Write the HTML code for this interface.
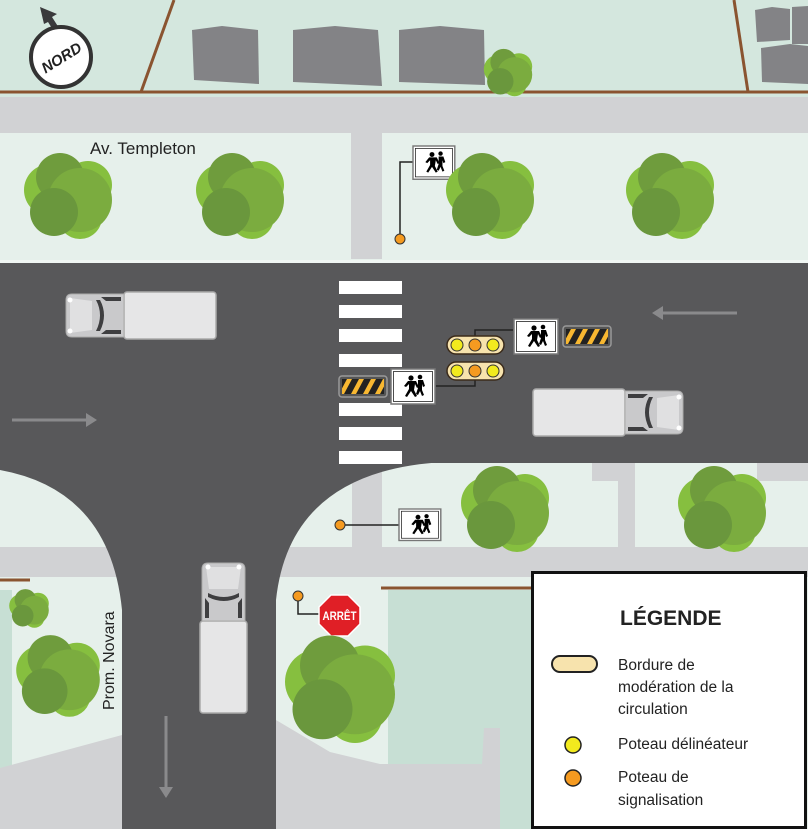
<!DOCTYPE html>
<html><head><meta charset="utf-8"><style>
html,body{margin:0;padding:0;background:#fff}
svg{display:block}
text{font-family:"Liberation Sans",sans-serif}
</style></head><body>
<svg width="808" height="829" viewBox="0 0 808 829" xmlns="http://www.w3.org/2000/svg">
<defs>
<g id="tree">
  <circle cx="-18" cy="-5" r="26" fill="#86bf3f"/>
  <circle cx="12" cy="22" r="22" fill="#86bf3f"/>
  <circle cx="20" cy="-10" r="24" fill="#86bf3f"/>
  <circle cx="-8" cy="-18" r="24" fill="#6f9c3d"/>
  <circle cx="12" cy="5" r="32" fill="#7bac3f"/>
  <circle cx="-14" cy="17" r="24" fill="#6a973d"/>
</g>
<g id="truck">
  <rect x="58" y="0" width="92" height="47" rx="3" fill="#e6e6e7" stroke="#aaa" stroke-width="1.5"/>
  <path d="M6 2 H58 V45 H6 Q0 45 0 39 V8 Q0 2 6 2Z" fill="#c9c9cb" stroke="#aaa" stroke-width="1"/>
  <path d="M4 6 L26 9 L26 38 L4 41 Z" fill="#e0e0e1"/>
  <path d="M30 8 Q38 23 30 39 L34 39 Q42 23 34 8Z" fill="#3e3e40"/>
  <path d="M35 5 L55 5 L55 9 L40 9Z" fill="#3e3e40"/>
  <path d="M35 42 L55 42 L55 38 L40 38Z" fill="#3e3e40"/>
  <circle cx="4" cy="8" r="2.5" fill="#fff"/>
  <circle cx="4" cy="39" r="2.5" fill="#fff"/>
</g>
<g id="ped">
  <rect x="0" y="0" width="44" height="35" fill="#fff" stroke="#777" stroke-width="1.5"/>
  <rect x="2.5" y="2.5" width="39" height="30" fill="#fff" stroke="#222" stroke-width="0.8"/>
  <circle cx="20" cy="9" r="2.6" fill="#000"/>
  <path d="M17 12 L25 12 L28 18 L26 19 L24 15 L23 21 L26 27 L24 28 L20 22 L16 28 L14 27 L18 20 L18 15 L15 18 L13 17Z" fill="#000"/>
  <circle cx="29" cy="8" r="2.3" fill="#000"/>
  <path d="M27 11 L32 11 L34 17 L32 18 L31 15 L31 21 L33 26 L31 27 L29 22 L27 26 L25 25 L27 19Z" fill="#000"/>
</g>
<g id="haz">
  <rect x="0" y="0" width="48" height="21" rx="3" fill="#555" stroke="#999" stroke-width="1.5"/>
  <clipPath id="hc"><rect x="3" y="3" width="42" height="15"/></clipPath>
  <g clip-path="url(#hc)">
    <rect x="3" y="3" width="42" height="15" fill="#222"/>
    <path d="M0 18 L8 3 L13 3 L5 18Z M12 18 L20 3 L25 3 L17 18Z M24 18 L32 3 L37 3 L29 18Z M36 18 L44 3 L49 3 L41 18Z" fill="#f7b731"/>
  </g>
</g>
<g id="pill">
  <rect x="0" y="0" width="57" height="18" rx="9" fill="#f7e3ad" stroke="#3a2a1a" stroke-width="1.5"/>
  <circle cx="10" cy="9" r="6" fill="#f2ea1e" stroke="#333" stroke-width="1"/>
  <circle cx="28" cy="9" r="6" fill="#f59a20" stroke="#333" stroke-width="1"/>
  <circle cx="46" cy="9" r="6" fill="#f2ea1e" stroke="#333" stroke-width="1"/>
</g>
</defs>

<!-- top band -->
<rect x="0" y="0" width="808" height="97" fill="#d4e7de"/>
<path d="M0 92 H808" stroke="#8a5430" stroke-width="3"/>
<path d="M174 0 L141 92" stroke="#8a5430" stroke-width="3"/>
<path d="M734 0 L748 92" stroke="#8a5430" stroke-width="3"/>
<!-- buildings -->
<path d="M192 30 L222 26 L258 30 L259 84 L194 80Z" fill="#838386"/>
<path d="M293 30 L335 26 L378 30 L382 86 L293 82Z" fill="#838386"/>
<path d="M399 30 L440 26 L484 30 L485 85 L399 82Z" fill="#838386"/>
<path d="M755 10 L772 7 L790 9 L790 40 L757 42Z" fill="#838386"/>
<path d="M792 7 L808 6 L808 44 L792 44Z" fill="#838386"/>
<path d="M761 48 L790 44 L808 46 L808 84 L762 82Z" fill="#838386"/>
<use href="#tree" transform="translate(508,72) scale(0.55)"/>
<!-- compass -->
<path d="M55 33 L48 22 L44 24 L40 7 L57 14 L52 17 L59 28Z" fill="#3a3a3c"/>
<circle cx="61" cy="57" r="30" fill="#fff" stroke="#333" stroke-width="4"/>
<text x="61" y="63" font-size="15" font-weight="bold" font-style="italic" text-anchor="middle" transform="rotate(-32 61 57)" fill="#222">NORD</text>

<!-- sidewalk & grass -->
<rect x="0" y="97" width="808" height="37" fill="#d1d2d4"/>
<rect x="0" y="133" width="808" height="130" fill="#e6f0eb"/>
<rect x="351" y="133" width="31" height="126" fill="#d1d2d4"/>

<!-- lower lawns -->
<rect x="0" y="460" width="808" height="369" fill="#e6f0eb"/>
<rect x="0" y="547" width="808" height="30" fill="#d1d2d4"/>
<rect x="352" y="460" width="30" height="90" fill="#d1d2d4"/>
<rect x="592" y="460" width="43" height="21" fill="#d1d2d4"/>
<rect x="618" y="460" width="17" height="90" fill="#d1d2d4"/>
<rect x="757" y="460" width="51" height="21" fill="#d1d2d4"/>
<rect x="0" y="590" width="12" height="180" fill="#c7dfd4"/>
<path d="M0 580 H30" stroke="#8a5430" stroke-width="3"/>
<rect x="388" y="590" width="145" height="239" fill="#c7dfd4"/>
<path d="M381 588 H532" stroke="#8a5430" stroke-width="3"/>
<path d="M0 768 L122 735 L122 829 L0 829Z" fill="#d1d2d4"/>
<path d="M276 720 L330 752 L380 764 L482 764 L484 728 L500 728 L500 829 L276 829Z" fill="#d1d2d4"/>

<!-- roads -->
<rect x="0" y="263" width="808" height="200" fill="#58585a"/>
<path d="M0 470 Q110 490 122 610 L122 829 L276 829 L276 600 Q290 470 445 462 L0 462Z" fill="#58585a"/>
<rect x="0" y="260" width="808" height="3" fill="#fff" opacity="0.4"/>

<!-- crosswalk -->
<g fill="#fff">
<rect x="339" y="281" width="63" height="13"/>
<rect x="339" y="305" width="63" height="13"/>
<rect x="339" y="329" width="63" height="13"/>
<rect x="339" y="354" width="63" height="13"/>
<rect x="339" y="403" width="63" height="13"/>
<rect x="339" y="427" width="63" height="13"/>
<rect x="339" y="451" width="63" height="13"/>
</g>

<!-- arrows -->
<g stroke="#8a8a8c" stroke-width="3" fill="#8a8a8c">
<path d="M12 420 H90"/><path d="M97 420 L86 413 L86 427Z" stroke="none"/>
<path d="M737 313 H660"/><path d="M652 313 L663 306 L663 320Z" stroke="none"/>
<path d="M166 716 V790"/><path d="M166 798 L159 787 L173 787Z" stroke="none"/>
</g>

<!-- trucks -->
<use href="#truck" transform="translate(66,292)"/>
<use href="#truck" transform="translate(683,389) scale(-1,1)"/>
<use href="#truck" transform="translate(247,563) rotate(90)"/>

<!-- devices -->
<path d="M475 336 V330 H513" stroke="#222" stroke-width="1.5" fill="none"/>
<path d="M475 380 V386 H436" stroke="#222" stroke-width="1.5" fill="none"/>
<use href="#pill" transform="translate(447,336)"/>
<use href="#pill" transform="translate(447,362)"/>
<use href="#ped" transform="translate(514,319)"/>
<use href="#ped" transform="translate(391,369)"/>
<use href="#haz" transform="translate(563,326)"/>
<use href="#haz" transform="translate(339,376)"/>

<!-- top sign -->
<path d="M400 238 V162 H413" stroke="#222" stroke-width="1.5" fill="none"/>
<circle cx="400" cy="239" r="5" fill="#f59a20" stroke="#333"/>
<use href="#ped" transform="translate(413,146) scale(0.95)"/>
<!-- lower sign -->
<path d="M340 525 H399" stroke="#222" stroke-width="1.5"/>
<circle cx="340" cy="525" r="5" fill="#f59a20" stroke="#333"/>
<use href="#ped" transform="translate(399,509) scale(0.95,0.9)"/>
<!-- stop -->
<path d="M298 597 V614 H322" stroke="#222" stroke-width="1.5" fill="none"/>
<circle cx="298" cy="596" r="5" fill="#f59a20" stroke="#333"/>
<polygon points="331,595 348,595 360,607 360,624 348,636 331,636 319,624 319,607" fill="#e01f26" stroke="#fff" stroke-width="1.5"/>
<text x="339.5" y="620" font-size="12" font-weight="bold" fill="#fff" text-anchor="middle" textLength="34" lengthAdjust="spacingAndGlyphs">ARRÊT</text>

<!-- trees -->
<use href="#tree" transform="translate(68,195)"/>
<use href="#tree" transform="translate(240,195)"/>
<use href="#tree" transform="translate(490,195)"/>
<use href="#tree" transform="translate(670,195)"/>
<use href="#tree" transform="translate(505,508)"/>
<use href="#tree" transform="translate(722,508)"/>
<use href="#tree" transform="translate(340,688) scale(1.25)"/>
<use href="#tree" transform="translate(29,608) scale(0.45)"/>
<use href="#tree" transform="translate(58,675) scale(0.95)"/>

<!-- labels -->
<text x="90" y="154" font-size="17" fill="#222">Av. Templeton</text>
<text x="0" y="0" font-size="16" fill="#222" transform="translate(114,710) rotate(-90)">Prom. Novara</text>

<!-- legend -->
<rect x="532.5" y="572.5" width="273" height="255" fill="#fff" stroke="#111" stroke-width="3"/>
<text x="620" y="625" font-size="21" font-weight="bold" fill="#222">LÉGENDE</text>
<rect x="552" y="656" width="45" height="16" rx="8" fill="#f7e3ad" stroke="#222" stroke-width="2"/>
<g font-size="15.5" fill="#222">
<text x="618" y="670">Bordure de</text>
<text x="618" y="692">modération de la</text>
<text x="618" y="714">circulation</text>
<text x="618" y="749">Poteau délinéateur</text>
<text x="618" y="782">Poteau de</text>
<text x="618" y="805">signalisation</text>
</g>
<circle cx="573" cy="745" r="8" fill="#f2ea1e" stroke="#222" stroke-width="1.5"/>
<circle cx="573" cy="778" r="8" fill="#f59a20" stroke="#222" stroke-width="1.5"/>
</svg>
</body></html>
